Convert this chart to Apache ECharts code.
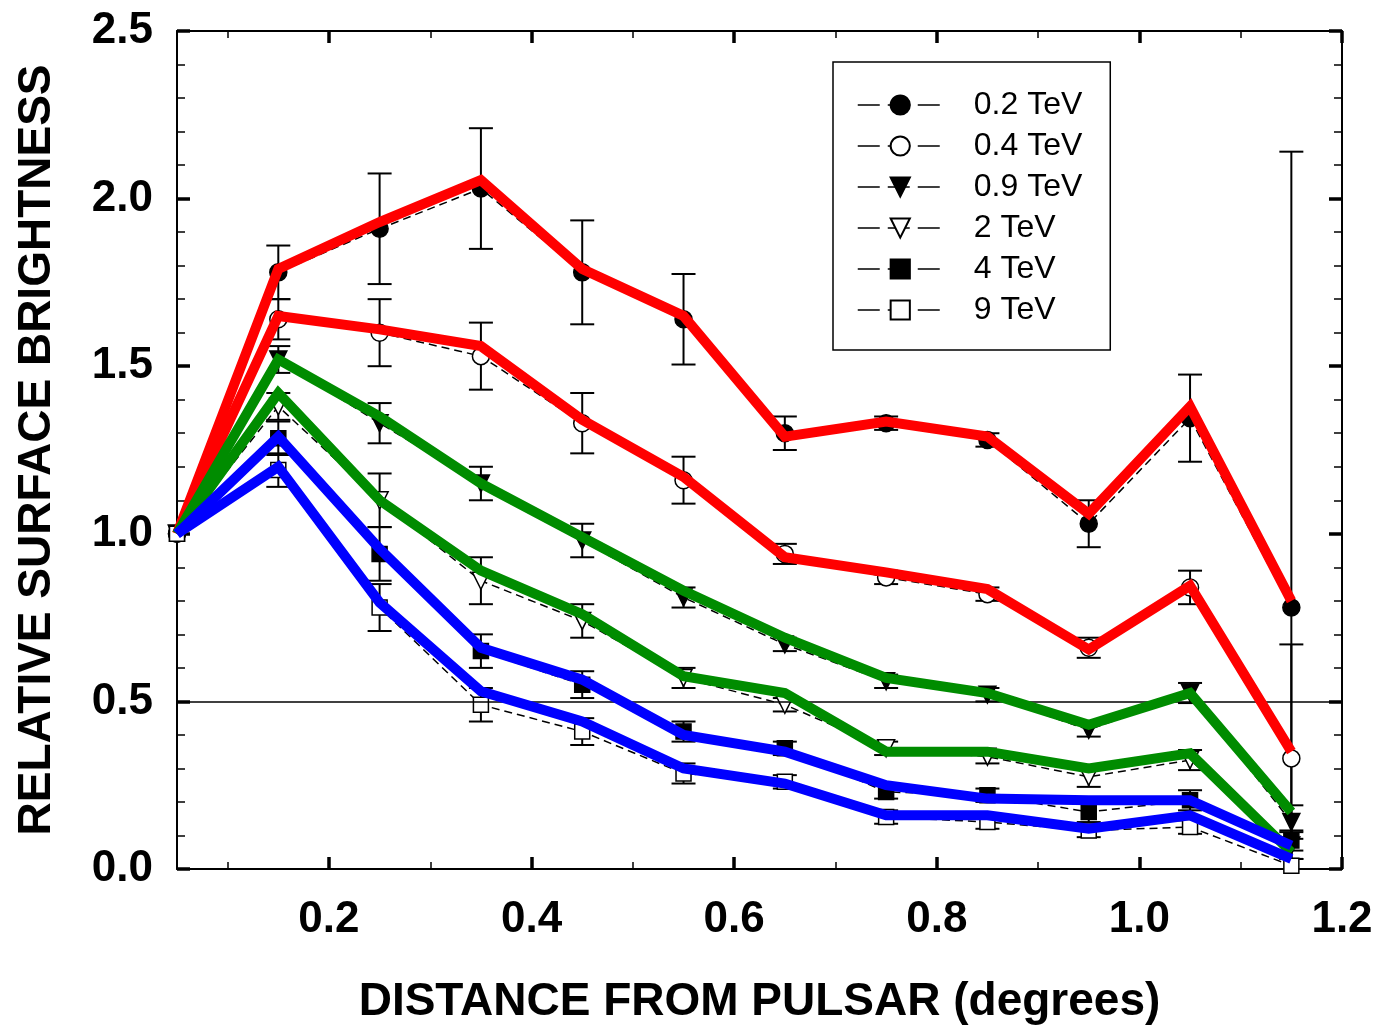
<!DOCTYPE html>
<html><head><meta charset="utf-8">
<script src="https://cdn.jsdelivr.net/npm/echarts@6/dist/echarts.min.js"></script>
<style>html,body{margin:0;padding:0;background:#fff}#c{width:1378px;height:1026px}</style>
</head><body><div id="c"></div>
<script>
// ---------- DATA ----------
const distances = [0.05, 0.15, 0.25, 0.35, 0.45, 0.55, 0.65, 0.75, 0.85, 0.95, 1.05, 1.15];
const seriesNames = ['0.2 TeV', '0.4 TeV', '0.9 TeV', '2 TeV', '4 TeV', '9 TeV'];

// measured relative surface brightness
const d02 = [1.0, 1.78, 1.91, 2.03, 1.78, 1.64, 1.30, 1.33, 1.28, 1.03, 1.345, 0.78];
const e02 = [0, 0.08, 0.165, 0.18, 0.155, 0.135, 0.05, 0.02, 0.02, 0.07, 0.13, 1.36];
const d04 = [1.0, 1.64, 1.60, 1.53, 1.33, 1.16, 0.94, 0.87, 0.82, 0.66, 0.84, 0.33];
const e04 = [0, 0.06, 0.10, 0.10, 0.09, 0.07, 0.03, 0.02, 0.02, 0.03, 0.05, 0.34];
const d09 = [1.0, 1.52, 1.33, 1.15, 0.98, 0.81, 0.67, 0.56, 0.52, 0.415, 0.525, 0.14];
const e09 = [0, 0.04, 0.06, 0.05, 0.05, 0.03, 0.02, 0.02, 0.02, 0.02, 0.03, 0.05];
const d2  = [1.0, 1.38, 1.10, 0.86, 0.74, 0.57, 0.49, 0.36, 0.335, 0.275, 0.325, 0.07];
const e2  = [0, 0.04, 0.08, 0.07, 0.05, 0.03, 0.02, 0.02, 0.02, 0.03, 0.03, 0.04];
const d4  = [1.0, 1.285, 0.94, 0.65, 0.55, 0.41, 0.36, 0.23, 0.22, 0.17, 0.205, 0.085];
const e4  = [0, 0.05, 0.08, 0.05, 0.04, 0.03, 0.02, 0.02, 0.02, 0.03, 0.03, 0.03];
const d9  = [1.0, 1.19, 0.78, 0.49, 0.41, 0.285, 0.26, 0.155, 0.14, 0.115, 0.125, 0.01];
const e9  = [0, 0.05, 0.07, 0.05, 0.04, 0.03, 0.02, 0.02, 0.02, 0.02, 0.02, 0.02];

// model curves (thick coloured lines)
const mRed1   = [1.0, 1.79, 1.93, 2.055, 1.79, 1.65, 1.29, 1.335, 1.29, 1.06, 1.38, 0.80];
const mRed2   = [1.0, 1.65, 1.61, 1.56, 1.34, 1.17, 0.93, 0.885, 0.835, 0.655, 0.845, 0.35];
const mGreen1 = [1.0, 1.52, 1.35, 1.15, 0.99, 0.83, 0.69, 0.57, 0.525, 0.43, 0.525, 0.17];
const mGreen2 = [1.0, 1.42, 1.10, 0.89, 0.76, 0.575, 0.525, 0.35, 0.35, 0.30, 0.345, 0.05];
const mBlue1  = [1.0, 1.29, 0.955, 0.66, 0.565, 0.40, 0.35, 0.25, 0.21, 0.205, 0.205, 0.07];
const mBlue2  = [1.0, 1.20, 0.795, 0.53, 0.44, 0.30, 0.255, 0.16, 0.16, 0.12, 0.16, 0.03];

const xTickValues = [0.2, 0.4, 0.6, 0.8, 1.0, 1.2];
const xTickLabels = ['0.2', '0.4', '0.6', '0.8', '1.0', '1.2'];
const xMinorValues = [0.1, 0.3, 0.5, 0.7, 0.9, 1.1];
const yTickLabels = ['0.0', '0.5', '1.0', '1.5', '2.0', '2.5'];
const refLine = 0.5;

// ---------- CHART ----------
const FONT = '"Liberation Sans", Arial, Helvetica, sans-serif';
const chart = echarts.init(document.getElementById('c'), null, {renderer: 'canvas'});
const pairs = ys => distances.map((x, i) => [x, ys[i]]);

function errorBars(name, ys, es) {
  return {
    type: 'custom', name: name + ' error', silent: true, z: 3, clip: true,
    encode: {x: 0, y: 1},
    data: distances.map((x, i) => [x, ys[i], es[i]]),
    renderItem(params, api) {
      const x = api.value(0), y = api.value(1), e = api.value(2);
      if (!e) return null;
      const hiV = Math.min(2.5, y + e), loV = Math.max(0, y - e);
      const hi = api.coord([x, hiV]), lo = api.coord([x, loV]);
      const w = 12, st = {stroke: '#000', lineWidth: 2};
      const ch = [{type: 'line', shape: {x1: hi[0], y1: hi[1], x2: lo[0], y2: lo[1]}, style: st}];
      if (y + e <= 2.5) ch.push({type: 'line', shape: {x1: hi[0] - w, y1: hi[1], x2: hi[0] + w, y2: hi[1]}, style: st});
      if (y - e >= 0) ch.push({type: 'line', shape: {x1: lo[0] - w, y1: lo[1], x2: lo[0] + w, y2: lo[1]}, style: st});
      return {type: 'group', children: ch};
    }
  };
}

const markerDefs = [
  {symbol: 'circle', size: 17, fill: '#000', rot: 0},
  {symbol: 'circle', size: 17, fill: '#fff', rot: 0},
  {symbol: 'triangle', size: 17, fill: '#000', rot: 180},
  {symbol: 'triangle', size: 17, fill: '#fff', rot: 180},
  {symbol: 'rect', size: 15, fill: '#000', rot: 0},
  {symbol: 'rect', size: 15, fill: '#fff', rot: 0}
];
const measured = [d02, d04, d09, d2, d4, d9];
const errs = [e02, e04, e09, e2, e4, e9];

const series = [];
measured.forEach((ys, k) => series.push(errorBars(seriesNames[k], ys, errs[k])));
measured.forEach((ys, k) => {
  const m = markerDefs[k];
  const s = {
    type: 'line', name: seriesNames[k], data: pairs(ys), z: 4,
    symbol: m.symbol, symbolSize: m.size, symbolRotate: m.rot, showAllSymbol: true,
    itemStyle: {color: m.fill, borderColor: '#000', borderWidth: 1.5},
    lineStyle: {color: '#000', width: 1.5, type: [8, 5]},
    emphasis: {disabled: true}, animation: false
  };
  if (k === 0) {
    s.markLine = {silent: true, symbol: 'none', label: {show: false}, animation: false,
      lineStyle: {color: '#000', width: 1.5, type: 'solid'}, data: [{yAxis: refLine}]};
  }
  series.push(s);
});
const models = [[mRed1, '#ff0000'], [mRed2, '#ff0000'], [mGreen1, '#008c00'], [mGreen2, '#008c00'], [mBlue1, '#0000ff'], [mBlue2, '#0000ff']];
models.forEach(([ys, col], k) => series.push({
  type: 'line', name: 'model ' + k, data: pairs(ys), symbol: 'none', z: 6, silent: true,
  lineStyle: {color: col, width: 10, join: 'miter', cap: 'butt'}, emphasis: {disabled: true}, animation: false
}));

const axisCommon = {
  type: 'value', min: 0.05, max: 1.2,
  splitLine: {show: false}
};

chart.setOption({
  backgroundColor: '#fff',
  animation: false,
  grid: {left: 177, right: 36, top: 31, bottom: 157, containLabel: false, outerBoundsMode: 'none'},
  legend: {
    data: seriesNames, orient: 'vertical', left: 833, top: 62,
    padding: [27, 28, 24, 24], itemGap: 9, itemWidth: 85, itemHeight: 24,
    borderColor: '#000', borderWidth: 1.5, backgroundColor: '#fff',
    lineStyle: {type: [22, 8], width: 1.5, color: '#000'},
    textStyle: {fontFamily: FONT, fontSize: 32, color: '#000', padding: [0, 0, 0, 26], lineHeight: 32},
    selectedMode: false
  },
  xAxis: [
    Object.assign({}, axisCommon, {
      position: 'bottom',
      axisLine: {show: true, onZero: false, lineStyle: {color: '#000', width: 2}},
      axisTick: {show: true, inside: true, length: 12, lineStyle: {color: '#000', width: 3.5}, customValues: xTickValues},
      axisLabel: {show: true, customValues: xTickValues, margin: 29, color: '#000', fontFamily: FONT, fontWeight: 'bold', fontSize: 44,
        formatter: v => xTickLabels[xTickValues.findIndex(t => Math.abs(t - v) < 1e-6)] || ''},
      name: 'DISTANCE FROM PULSAR (degrees)', nameLocation: 'middle', nameGap: 110,
      nameTextStyle: {color: '#000', fontFamily: FONT, fontWeight: 'bold', fontSize: 46}
    }),
    Object.assign({}, axisCommon, {
      position: 'bottom', axisLine: {show: false, onZero: false},
      axisTick: {show: true, inside: true, length: 7, lineStyle: {color: '#000', width: 1.5}, customValues: xMinorValues},
      axisLabel: {show: false}
    }),
    Object.assign({}, axisCommon, {
      position: 'top', axisLine: {show: true, onZero: false, lineStyle: {color: '#000', width: 2}},
      axisTick: {show: true, inside: true, length: 12, lineStyle: {color: '#000', width: 3.5}, customValues: xTickValues},
      axisLabel: {show: false}
    }),
    Object.assign({}, axisCommon, {
      position: 'top', axisLine: {show: false, onZero: false},
      axisTick: {show: true, inside: true, length: 7, lineStyle: {color: '#000', width: 1.5}, customValues: xMinorValues},
      axisLabel: {show: false}
    })
  ],
  yAxis: [
    {
      type: 'value', min: 0, max: 2.5, interval: 0.5, position: 'left',
      axisLine: {show: true, onZero: false, lineStyle: {color: '#000', width: 2}},
      axisTick: {show: true, inside: true, length: 13, lineStyle: {color: '#000', width: 3.5}},
      minorTick: {show: true, splitNumber: 5, length: 8, lineStyle: {color: '#000', width: 1.5}},
      axisLabel: {margin: 24, color: '#000', fontFamily: FONT, fontWeight: 'bold', fontSize: 44,
        formatter: v => yTickLabels[Math.round(v / 0.5)]},
      splitLine: {show: false},
      name: 'RELATIVE SURFACE BRIGHTNESS', nameLocation: 'middle', nameGap: 117,
      nameTextStyle: {color: '#000', fontFamily: FONT, fontWeight: 'bold', fontSize: 46}
    },
    {
      type: 'value', min: 0, max: 2.5, interval: 0.5, position: 'right',
      axisLine: {show: true, onZero: false, lineStyle: {color: '#000', width: 2}},
      axisTick: {show: true, inside: true, length: 13, lineStyle: {color: '#000', width: 3.5}},
      minorTick: {show: true, splitNumber: 5, length: 8, lineStyle: {color: '#000', width: 1.5}},
      axisLabel: {show: false}, splitLine: {show: false}
    }
  ],
  series: series
});
</script>
</body></html>
